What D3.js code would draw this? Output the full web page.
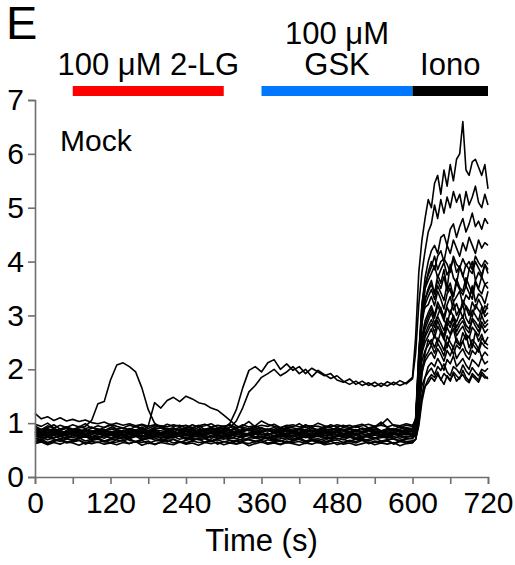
<!DOCTYPE html>
<html>
<head>
<meta charset="utf-8">
<script src="https://cdn.jsdelivr.net/npm/d3@7"></script>
<style>
  body { margin: 0; background: #fff; }
  text { font-family: Arial, "Liberation Sans", sans-serif; fill: #000; }
  .axis path, .axis line { stroke: #6e6e6e; stroke-width: 1.6; }
  .axis text { font-size: 30px; }
  .trace { fill: none; stroke: #000; stroke-width: 1.6; stroke-linejoin: round; }
</style>
</head>
<body>
<svg width="515" height="565"></svg>
<script>
// sample times (s)
const tBase = [0,10,20,30,40,50,60,70,80,90,100,110,120,130,140,150,160,170,180,190,
  200,210,220,230,240,250,260,270,280,290,300,310,320,330,340,350,360,370,380,390,
  400,410,420,430,440,450,460,470,480,490,500,510,520,530,540,550,560,570,580,590,600];
const tIono = [605,610,615,620,625,630,635,640,645,650,655,660,665,670,675,680,685,690,695,700,705,710,715,720];

// ratio x100, before ionomycin (one row per cell)
const baseTraces = [
  [72,68,74,70,66,71,69,73,67,70, 72,65,69,71,74,68,66,70,73,69, 67,71,70,64,68,72,69,71,66,70, 73,68,67,71,69,65,70,72,68,66, 71,69,73,67,70,68,64,69,72,70, 66,71,68,70,73,67,69,71,66,70, 72],
  [78,74,80,73,76,71,77,75,79,72, 74,77,73,76,80,71,75,78,72,74, 77,73,79,75,70,76,74,78,72,75, 77,74,71,76,79,73,75,72,77,74, 76,70,75,78,73,77,74,71,76,75, 79,72,74,77,73,75,78,71,76,74, 77],
  [84,79,82,77,81,85,78,80,76,83, 79,81,77,84,80,78,82,75,80,83, 77,81,79,84,76,80,82,78,81,77, 83,79,80,76,82,85,78,80,77,81, 79,83,76,80,82,78,84,77,79,81, 76,82,80,78,83,79,77,81,80,84, 79],
  [88,83,86,90,82,85,87,81,86,84, 89,83,85,80,87,86,82,88,84,85, 81,87,83,89,85,82,86,84,88,81, 85,87,83,86,90,82,84,87,81,86, 85,83,88,82,86,84,89,81,85,87, 83,86,82,88,84,85,81,87,83,86, 84],
  [95,88,92,97,89,91,86,94,90,93, 87,92,96,89,91,88,94,90,86,92, 95,89,91,87,93,90,96,88,92,89, 94,87,91,93,89,95,90,88,92,86, 93,91,89,97,90,88,94,91,87,92, 90,95,88,91,93,102,92,87,94,90, 91],
  [70,74,69,73,76,71,68,72,75,70, 73,67,71,74,70,72,76,69,71,73, 68,72,75,70,73,69,71,74,67,72, 70,75,71,68,73,72,70,74,69,71, 73,67,72,75,70,71,68,73,72,69, 74,70,72,67,71,73,75,70,68,72, 71],
  [80,76,79,82,75,78,81,77,74,79, 82,76,78,80,75,79,77,83,76,78, 80,74,79,81,77,76,80,78,82,75, 79,77,81,76,78,80,74,79,82,77, 78,76,80,79,75,81,77,78,83,76, 79,80,75,78,82,77,76,80,78,79, 81],
  [85,80,83,79,86,82,81,84,78,83, 80,85,82,79,84,81,83,86,80,82, 78,84,81,83,85,79,82,80,86,83, 81,78,84,82,80,85,83,79,82,84, 80,86,81,83,79,82,85,80,84,81, 83,79,82,86,80,84,81,83,78,82, 85],
  [92,86,90,85,89,93,87,88,84,91, 89,86,92,88,85,90,87,93,86,89, 91,85,88,92,87,90,84,89,91,86, 88,93,87,85,90,89,92,86,88,84, 91,87,89,93,86,88,90,85,92,87, 89,86,91,88,93,85,90,87,89,92, 88],
  [66,70,64,68,71,65,67,69,63,68, 70,66,64,69,67,71,65,68,62,67, 69,65,70,66,63,68,71,64,67,69, 65,68,62,66,70,67,64,69,66,68, 63,67,70,65,68,66,61,67,69,64, 68,66,70,63,67,65,69,62,68,66, 67],
  [74,78,75,72,79,76,73,77,80,74, 76,72,78,75,79,73,77,74,76,80, 72,77,75,78,73,76,79,74,77,72, 75,78,76,73,80,75,74,77,72,78, 76,74,79,73,77,75,78,72,76,79, 74,77,73,76,78,75,72,79,76,74, 77],
  [82,86,83,88,81,85,84,87,80,85, 83,88,82,86,84,81,87,85,83,89, 82,84,86,80,85,88,83,84,81,87, 85,82,86,84,88,80,83,87,85,82, 86,84,81,88,83,85,87,82,84,86, 80,85,83,88,82,86,84,81,87,83, 85],
  [98,94,100,91,96,92,97,93,99,90, 95,92,98,94,91,96,93,97,90,95, 92,98,94,96,91,97,93,95,99,92, 94,96,90,97,93,95,104,98,94,91, 96,93,99,92,95,94,91,97,93,96, 92,95,98,91,94,97,108,95,92,96, 94],
  [64,67,62,66,69,63,65,68,61,66, 64,67,63,65,68,62,66,64,67,60, 65,68,63,66,62,67,64,65,69,61, 66,63,67,64,62,66,68,63,65,61, 67,64,66,62,68,63,65,67,60,64, 66,63,68,62,65,64,67,61,66,63, 65],
  [81,77,80,83,76,79,82,78,80,75, 79,83,77,81,78,80,76,82,79,77, 81,78,84,76,79,81,77,80,82,78, 76,80,83,79,77,81,78,82,75,80, 79,77,82,80,78,76,81,79,83,77, 80,78,81,76,79,82,77,80,78,81, 79],
  [89,85,88,84,87,90,83,86,88,85, 87,83,89,86,84,88,85,90,83,87, 86,84,89,85,87,83,88,86,90,84, 87,85,83,89,86,88,84,87,85,90, 83,86,88,84,87,85,89,83,86,88, 85,87,84,89,86,83,88,85,87,84, 86],
  [76,72,75,78,71,74,77,73,75,70, 74,77,72,76,73,75,78,71,74,76, 72,75,73,77,70,74,76,72,75,78, 73,71,76,74,77,72,75,73,70,76, 74,78,72,75,73,76,71,74,77,73, 75,72,76,74,71,77,73,75,72,76, 74],
  [83,79,82,85,78,81,84,80,77,82, 85,79,81,83,78,82,80,84,79,81, 77,83,80,82,85,78,81,79,84,80, 82,78,85,81,79,83,80,77,82,84, 79,81,83,80,78,85,81,79,83,80, 82,78,84,81,80,83,79,82,85,80, 81],
  [118,108,112,105,110,104,107,103,106,101, 99,102,97,100,96,99,95,98,94,97, 95,93,97,94,96,92,95,98,93,96, 94,97,92,95,103,93,96,94,98,92, 95,97,93,96,94,100,95,93,97,94, 96,92,95,98,94,96,93,97,95,99, 96],
  [62,65,60,64,61,66,63,59,64,62, 65,61,63,60,64,62,66,59,63,61, 64,62,60,65,61,63,59,64,62,65, 60,63,61,64,58,62,65,61,63,60, 64,62,59,63,61,65,60,62,64,61, 63,59,62,65,60,63,61,64,58,62, 63],
  // cell responding during 2-LG (early peak)
  [92,88,95,90,86,93,89,91,94,105, 136,140,180,208,212,205,195,165,125,100, 92,88,91,86,90,87,92,85,89,88, 91,86,90,84,88,92,87,89,85,91, 88,86,90,87,93,85,89,88,91,86, 90,87,84,89,92,86,88,90,85,89, 87],
  // cell responding during 2-LG (late plateau)
  [85,82,88,84,80,86,83,87,81,85, 84,88,82,86,83,85,87,84,95,138, 128,142,148,140,150,145,138,135,128,124, 115,105,95,90,86,88,84,87,82,89, 85,86,83,88,84,87,85,82,88,86, 83,87,84,86,89,83,85,88,84,86, 85],
  // cells responding to GSK
  [82,86,80,84,79,85,81,83,78,84, 80,86,82,79,85,81,83,80,84,78, 82,85,80,83,81,86,79,82,84,80, 90,100,125,165,198,205,195,212,218,200, 210,198,205,192,202,195,188,192,180,176, 182,172,178,170,176,168,177,171,179,173, 182],
  [78,83,76,81,85,77,80,82,75,79, 84,78,81,76,83,80,77,82,79,85, 76,81,78,83,80,77,84,79,82,78, 85,92,104,128,158,170,185,192,200,188, 195,205,192,200,186,198,190,183,188,178, 172,178,170,175,168,174,169,176,170,175, 185]
];

// ratio x100, ionomycin phase (same cell order)
const ionoTraces = [
  [78,130,170,185,195,202,190,205,198,210,195,188,205,200,192,208,197,190,203,195,188,200,196,202],
  [85,200,290,330,350,365,340,375,360,385,350,395,370,360,390,375,355,385,400,365,380,370,395,378],
  [85,120,190,230,255,245,265,250,270,258,240,262,275,250,245,268,255,262,240,270,252,265,248,260],
  [95,180,250,275,290,305,285,300,315,292,280,310,298,288,305,320,295,285,310,300,290,315,298,305],
  [110,230,320,360,375,390,410,385,400,405,395,380,410,395,388,405,392,400,385,410,398,390,402,395],
  [80,150,195,215,225,232,220,238,228,215,235,225,242,220,230,238,225,218,235,228,240,222,232,225],
  [95,230,300,315,320,335,318,345,330,312,340,350,325,335,345,320,338,330,355,325,340,335,322,345],
  [92,170,235,260,272,285,268,290,275,262,288,278,295,270,282,290,275,268,292,280,270,288,278,285],
  [100,210,290,330,345,358,340,365,350,372,345,360,335,368,352,345,370,355,340,365,350,372,358,362],
  [70,95,140,168,182,190,185,195,180,192,186,178,195,188,182,198,185,178,192,186,180,195,188,182],
  [88,185,260,290,305,318,300,325,312,298,320,335,310,322,305,328,315,300,325,312,330,318,305,322],
  [92,165,215,235,245,255,240,258,248,235,262,250,240,258,245,252,265,240,255,248,238,258,250,245],
  [105,220,310,350,365,378,392,370,385,398,375,388,405,380,392,372,395,385,378,400,388,375,395,385],
  [70,100,150,185,205,212,205,220,210,198,218,210,225,205,212,220,208,200,218,212,205,222,210,215],
  [88,175,240,265,280,292,278,298,285,272,295,285,300,278,290,298,282,275,295,288,278,300,285,292],
  [98,205,285,320,335,348,330,355,342,328,358,345,335,360,348,338,355,342,330,362,348,340,358,350],
  [82,150,200,222,232,245,230,248,238,225,250,240,228,245,238,252,235,228,248,240,232,250,242,238],
  [90,180,255,282,298,312,295,318,305,290,315,302,325,300,312,295,318,308,298,320,310,302,318,312],
  [105,175,230,250,262,275,258,280,268,255,278,265,285,262,272,280,265,258,278,270,262,282,268,275],
  [70,110,150,168,175,185,178,190,182,172,188,180,192,178,185,190,180,175,188,182,176,190,184,185],
  [100,210,300,350,380,400,385,410,420,400,430,415,440,425,410,435,420,445,430,415,440,425,435,430],
  [95,220,320,370,400,420,430,415,445,450,430,460,470,445,465,480,455,470,490,465,475,460,480,470],
  [230,320,380,420,455,470,505,480,515,490,520,500,530,510,525,495,530,505,520,540,510,500,525,505],
  [260,380,440,480,515,500,545,560,525,570,540,580,550,590,600,660,570,560,585,590,575,560,580,535]
];

const xTicks = [0,60,120,180,240,300,360,420,480,540,600,660,720];
const xLabels = [0,120,240,360,480,600,720];
const yTicks = [0,1,2,3,4,5,6,7];

// treatment bars: [start, end, colour]
const treatments = [
  [60, 300, '#ff0000'],
  [360, 600, '#0077ff'],
  [600, 720, '#000000']
];

const svg = d3.select('svg');
const x = d3.scaleLinear().domain([0, 720]).range([35, 488]);
const y = d3.scaleLinear().domain([0, 7]).range([477, 100]);

// traces
const line = d3.line()
  .x(d => x(d[0]))
  .y(d => y(d[1] / 100));

const traceData = baseTraces.map((b, i) => {
  const pts = b.slice(0, tBase.length).map((v, j) => [tBase[j], v]);
  ionoTraces[i].forEach((v, j) => pts.push([tIono[j], v]));
  return pts;
});

svg.append('g')
  .selectAll('path')
  .data(traceData)
  .join('path')
  .attr('class', 'trace')
  .attr('d', line);

// axes
const yAxis = d3.axisLeft(y)
  .tickValues(yTicks)
  .tickFormat(d3.format('d'))
  .tickSize(7)
  .tickPadding(4);
svg.append('g')
  .attr('class', 'axis')
  .attr('transform', `translate(${x(0)},0)`)
  .call(yAxis)
  .call(g => g.selectAll('text').attr('fill', '#000'));

const xAxis = d3.axisBottom(x)
  .tickValues(xTicks)
  .tickSize(7)
  .tickPadding(8)
  .tickFormat(d => xLabels.includes(d) ? d : '');
svg.append('g')
  .attr('class', 'axis')
  .attr('transform', `translate(0,${y(0)})`)
  .call(xAxis)
  .call(g => g.selectAll('text').attr('fill', '#000'));

svg.append('text')
  .attr('x', (x(0) + x(720)) / 2)
  .attr('y', 551)
  .attr('text-anchor', 'middle')
  .style('font-size', '31px')
  .text('Time (s)');

// treatment bars and labels
svg.append('g')
  .selectAll('rect')
  .data(treatments)
  .join('rect')
  .attr('x', d => x(d[0]))
  .attr('width', d => x(d[1]) - x(d[0]))
  .attr('y', 86)
  .attr('height', 10)
  .attr('fill', d => d[2]);

const labelSize = '31px';
svg.append('text')
  .attr('x', x(180)).attr('y', 75)
  .attr('text-anchor', 'middle').style('font-size', labelSize)
  .text('100 μM 2-LG');
svg.append('text')
  .attr('x', x(480)).attr('y', 44)
  .attr('text-anchor', 'middle').style('font-size', labelSize)
  .text('100 μM');
svg.append('text')
  .attr('x', x(480)).attr('y', 75)
  .attr('text-anchor', 'middle').style('font-size', labelSize)
  .text('GSK');
svg.append('text')
  .attr('x', x(660)).attr('y', 75)
  .attr('text-anchor', 'middle').style('font-size', labelSize)
  .text('Iono');

svg.append('text')
  .attr('x', 60).attr('y', 151)
  .style('font-size', '30px')
  .text('Mock');

// panel letter
svg.append('text')
  .attr('x', 6).attr('y', 39)
  .style('font-size', '47px')
  .text('E');
</script>
</body>
</html>
